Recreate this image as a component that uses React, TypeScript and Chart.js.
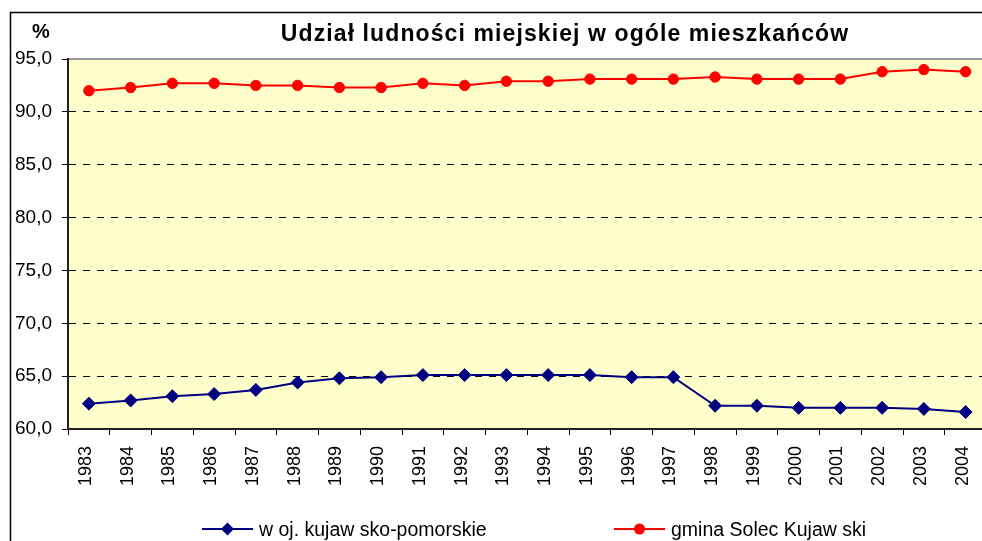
import React, { useEffect, useRef } from "react";
import { Chart, registerables } from "chart.js";

Chart.register(...registerables);

const TITLE = "Udział ludności miejskiej w ogóle mieszkańców";
const Y_UNIT = "%";
const YEARS = [
  "1983", "1984", "1985", "1986", "1987", "1988", "1989", "1990", "1991", "1992", "1993",
  "1994", "1995", "1996", "1997", "1998", "1999", "2000", "2001", "2002", "2003", "2004",
];
const VOIV_LABEL = "w oj. kujaw sko-pomorskie";
const VOIV = [
  62.4, 62.7, 63.1, 63.3, 63.7, 64.4, 64.8, 64.9, 65.1, 65.1, 65.1,
  65.1, 65.1, 64.9, 64.9, 62.2, 62.2, 62.0, 62.0, 62.0, 61.9, 61.6,
];
const GMINA_LABEL = "gmina Solec Kujaw ski";
const GMINA = [
  92.0, 92.3, 92.7, 92.7, 92.5, 92.5, 92.3, 92.3, 92.7, 92.5, 92.9,
  92.9, 93.1, 93.1, 93.1, 93.3, 93.1, 93.1, 93.1, 93.8, 94.0, 93.8,
];
const Y_MIN = 60;
const Y_MAX = 95;
const Y_STEP = 5;

const FONT = "'Liberation Sans', Arial, sans-serif";
const BLUE = "#000080";
const RED = "#FF0000";
const CANVAS_W = 994;
const CANVAS_H = 541;

const decor = {
  id: "decor",
  beforeDraw(chart: any) {
    const { ctx, chartArea: a } = chart;
    ctx.save();
    ctx.fillStyle = "#ffffff";
    ctx.fillRect(0, 0, chart.width, chart.height);
    ctx.fillStyle = "#FFFFCC";
    ctx.fillRect(a.left, a.top, a.right - a.left, a.bottom - a.top);
    // outer chart border
    ctx.strokeStyle = "#000";
    ctx.lineWidth = 1.5;
    ctx.beginPath();
    ctx.moveTo(10.5, chart.height + 5);
    ctx.lineTo(10.5, 12.5);
    ctx.lineTo(chart.width + 5, 12.5);
    ctx.stroke();
    // plot area top border
    ctx.strokeStyle = "#999";
    ctx.lineWidth = 2;
    ctx.beginPath();
    ctx.moveTo(a.left, a.top);
    ctx.lineTo(a.right, a.top);
    ctx.stroke();
    ctx.restore();
  },
  afterDraw(chart: any) {
    const { ctx } = chart;
    ctx.save();
    ctx.fillStyle = "#000";
    ctx.textBaseline = "alphabetic";
    ctx.font = `bold 23px ${FONT}`;
    ctx.textAlign = "center";
    (ctx as any).letterSpacing = "1.1px";
    ctx.fillText(TITLE, 565, 41);
    (ctx as any).letterSpacing = "0px";
    ctx.font = `bold 20px ${FONT}`;
    ctx.textAlign = "left";
    ctx.fillText(Y_UNIT, 32, 38);

    const items = [
      { x0: 202, x1: 253 },
      { x0: 614, x1: 665 },
    ];
    const ly = 529;
    chart.data.datasets.forEach((ds: any, i: number) => {
      const it = items[i];
      ctx.strokeStyle = ds.borderColor;
      ctx.lineWidth = 2;
      ctx.beginPath();
      ctx.moveTo(it.x0, ly);
      ctx.lineTo(it.x1, ly);
      ctx.stroke();
      const cx = (it.x0 + it.x1) / 2;
      ctx.fillStyle = ds.borderColor;
      ctx.beginPath();
      if (ds.pointStyle === "rectRot") {
        const r = 6.5;
        ctx.moveTo(cx, ly - r);
        ctx.lineTo(cx + r, ly);
        ctx.lineTo(cx, ly + r);
        ctx.lineTo(cx - r, ly);
        ctx.closePath();
      } else {
        ctx.arc(cx, ly, 5.5, 0, Math.PI * 2);
      }
      ctx.fill();
      ctx.fillStyle = "#000";
      ctx.font = `19.5px ${FONT}`;
      ctx.textAlign = "left";
      ctx.fillText(ds.label, it.x1 + 6, 536);
    });
    ctx.restore();
  },
};

export default function App() {
  const ref = useRef<HTMLCanvasElement | null>(null);

  useEffect(() => {
    if (!ref.current) return;
    const chart = new Chart(ref.current, {
      type: "line",
      data: {
        labels: YEARS,
        datasets: [
          {
            label: VOIV_LABEL,
            data: VOIV,
            borderColor: BLUE,
            backgroundColor: BLUE,
            borderWidth: 2,
            pointStyle: "rectRot",
            pointRadius: 6.5,
            pointBorderWidth: 1,
            pointBackgroundColor: BLUE,
            pointBorderColor: BLUE,
            tension: 0,
          },
          {
            label: GMINA_LABEL,
            data: GMINA,
            borderColor: RED,
            backgroundColor: RED,
            borderWidth: 2,
            pointStyle: "circle",
            pointRadius: 5.2,
            pointBorderWidth: 1,
            pointBackgroundColor: RED,
            pointBorderColor: RED,
            tension: 0,
          },
        ],
      },
      options: {
        responsive: false,
        animation: false,
        devicePixelRatio: 1,
        layout: { padding: { left: 0, top: 59, right: 1, bottom: 0 } },
        plugins: {
          legend: { display: false },
          title: { display: false },
          tooltip: { enabled: false },
        },
        scales: {
          x: {
            type: "category",
            offset: true,
            afterFit: (s: any) => {
              s.height = 112;
              s.paddingLeft = 0;
              s.paddingRight = 0;
            },
            grid: {
              offset: true,
              drawOnChartArea: false,
              drawTicks: true,
              tickLength: 6,
              tickColor: "#000",
              color: "#000",
            },
            border: { color: "#222", width: 2 },
            ticks: {
              autoSkip: false,
              minRotation: 90,
              maxRotation: 90,
              padding: 11,
              labelOffset: -3,
              color: "#000",
              font: { family: FONT, size: 18 },
            },
          },
          y: {
            min: Y_MIN,
            max: Y_MAX,
            afterFit: (s: any) => {
              s.width = 68;
              s.paddingTop = 0;
              s.paddingBottom = 0;
            },
            grid: {
              color: (c: any) =>
                c.tick && (c.tick.value === Y_MIN || c.tick.value === Y_MAX) ? "rgba(0,0,0,0)" : "#000",
              lineWidth: 1,
              tickLength: 6,
              tickColor: "#000",
              drawTicks: true,
            },
            border: { color: "#222", width: 2, dash: [7, 7] },
            ticks: {
              stepSize: Y_STEP,
              padding: 10,
              color: "#000",
              font: { family: FONT, size: 19 },
              callback: (v: any) => Number(v).toFixed(1).replace(".", ","),
            },
          },
        },
      },
      plugins: [decor],
    });
    return () => chart.destroy();
  }, []);

  return (
    <canvas
      ref={ref}
      width={CANVAS_W}
      height={CANVAS_H}
      style={{ position: "fixed", left: 0, top: 0, width: CANVAS_W, height: CANVAS_H }}
    />
  );
}
